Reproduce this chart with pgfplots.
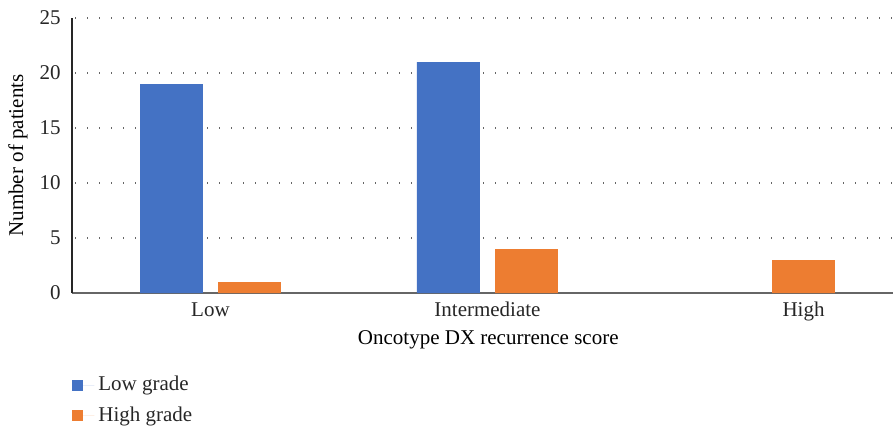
\documentclass[border=0pt]{standalone}
\usepackage{fontspec}
\setmainfont{Liberation Serif}
\usepackage{pgfplots}
\pgfplotsset{compat=1.18}
\definecolor{lowgrade}{HTML}{4472C4}
\definecolor{highgrade}{HTML}{ED7D31}
\begin{document}
\fontsize{10.5}{12}\selectfont
\begin{tikzpicture}
\useasboundingbox (-36pt,-67.5pt) rectangle (411.5pt,146.5pt);
\begin{axis}[
  at={(0,0)}, anchor=south west,
  scale only axis, width=410.5pt, height=137.5pt,
  xmin=-0.5, xmax=2.464, ymin=0, ymax=25,
  ytick={0,5,10,15,20,25},
  xtick={0,1,2.141}, xticklabels={Low,Intermediate,High},
  axis x line=bottom, axis y line=left,
  x axis line style={-, draw=black!60, line width=0.9pt},
  y axis line style={-, draw=black!85, line width=0.7pt},
  major tick length=0pt,
  ymajorgrids, grid style={draw=black!60, line width=0.8pt, dash pattern=on 0.6pt off 5.4pt, dash phase=4.4pt},
  /pgf/number format/assume math mode=true,
  tick label style={font=\fontsize{10.5}{12}\selectfont, text=black!85},
  yticklabel style={xshift=-2pt},
  xticklabel style={yshift=-1pt},
  label style={font=\fontsize{10.5}{12}\selectfont, text=black!85},
  xlabel={Oncotype DX recurrence score},
  ylabel={Number of patients},
  every axis x label/.style={at={(axis description cs:0.507,0)}, yshift=-23.5pt, anchor=center},
  every axis y label/.style={at={(axis description cs:0,0.5)}, xshift=-27pt, rotate=90, anchor=center},
  ybar, bar width=0.227,
  legend style={at={(axis description cs:0,0)}, yshift=-39.5pt, anchor=north west, draw=none, fill=none,
    font=\fontsize{10.5}{12}\selectfont, text=black!85, row sep=2.5pt, inner sep=0pt,
    cells={anchor=west}},
  legend cell align=left,
  legend image code/.code={\fill[#1] (0pt,-2.75pt) rectangle (5.5pt,2.75pt); \path (0pt,0pt) -- (11pt,0pt);},
]
\addplot[fill=lowgrade, draw=none, bar shift=-0.141] coordinates {(0,19) (1,21)};
\addplot[fill=highgrade, draw=none, bar shift=0.141] coordinates {(0,1) (1,4) (2,3)};
\legend{Low grade, High grade}
\end{axis}
\end{tikzpicture}
\end{document}
